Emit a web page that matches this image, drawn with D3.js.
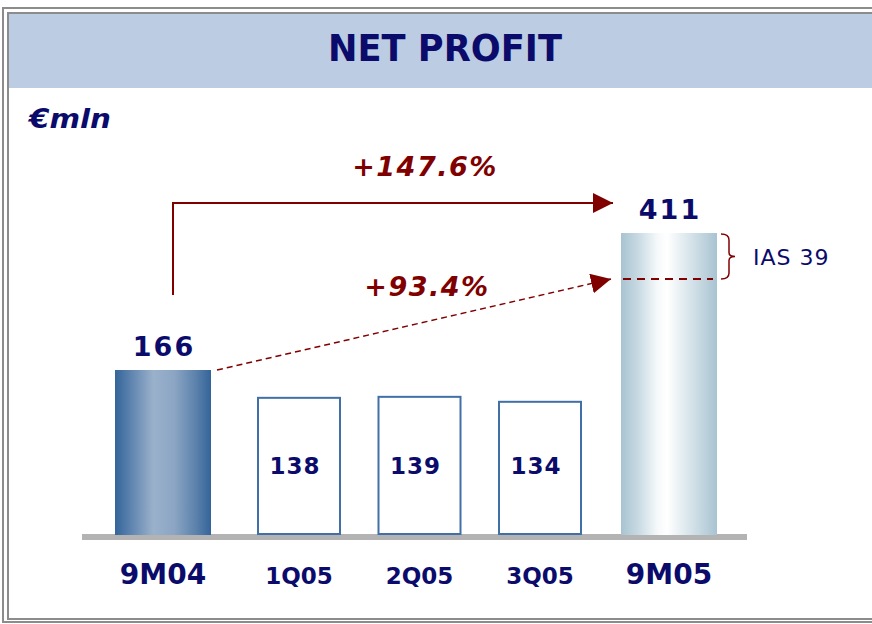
<!DOCTYPE html>
<html>
<head>
<meta charset="utf-8">
<script src="https://cdn.jsdelivr.net/npm/d3@7"></script>
<style>
  body { margin: 0; background: #fff; overflow: hidden; }
  svg { display: block; }
  text { font-family: "DejaVu Sans", Verdana, sans-serif; }
</style>
</head>
<body>
<svg id="svg" width="872" height="624"></svg>
<script>
// chart data
const categories = ["9M04", "1Q05", "2Q05", "3Q05", "9M05"];
const netProfit = [166, 138, 139, 134, 411];
const preIas39 = 321;          // 9M05 before IAS 39 effect
const chartTitle = "NET PROFIT";
const unitLabel = "€mln";
const iasLabel = "IAS 39";

const navy = "#0b0b6b", red = "#800000";
const svg = d3.select("#svg");
const defs = svg.append("defs");

// frame + header band
svg.append("rect").attr("x", 3).attr("y", 8).attr("width", 900).attr("height", 614)
    .attr("fill", "none").attr("stroke", "#8c8c8c").attr("stroke-width", 2);
svg.append("rect").attr("x", 8).attr("y", 13).attr("width", 900).attr("height", 606)
    .attr("fill", "#fff").attr("stroke", "#8c8c8c").attr("stroke-width", 2);
svg.append("rect").attr("x", 9).attr("y", 14).attr("width", 870).attr("height", 74)
    .attr("fill", "#bccde3");
svg.append("text").attr("x", 445).attr("y", 61).attr("text-anchor", "middle")
    .attr("font-size", 37).attr("font-weight", "bold").attr("fill", navy)
    .attr("textLength", 234).attr("lengthAdjust", "spacingAndGlyphs")
    .text(chartTitle);
svg.append("text").attr("x", 29).attr("y", 128)
    .attr("font-size", 26).attr("font-weight", "bold").attr("font-style", "italic")
    .attr("fill", navy).attr("textLength", 82).attr("lengthAdjust", "spacingAndGlyphs")
    .text(unitLabel);

// scales (chart is not to scale, hence piecewise y)
const isQuarter = c => c.includes("Q");
const totals = categories.filter(c => !isQuarter(c));
const quarters = categories.filter(isQuarter);
const xTot = d3.scalePoint().domain(totals).range([163, 669]);
const xQ = d3.scalePoint().domain(quarters).range([299, 540]);
const x = c => isQuarter(c) ? xQ(c) : xTot(c);
const y = d3.scaleLinear().domain([0, 166, 321, 411]).range([535, 370, 279, 233]);
const barW = c => isQuarter(c) ? 82 : 96;

// gradients
function grad(id, stops) {
    const g = defs.append("linearGradient").attr("id", id)
        .attr("x1", "0%").attr("x2", "100%").attr("y1", "0%").attr("y2", "0%");
    stops.forEach(s => g.append("stop").attr("offset", s[0]).attr("stop-color", s[1]));
}
grad("gDark", [["0%", "#33649a"], ["15%", "#5a81ad"], ["40%", "#9ab1cb"], ["62%", "#8ba5c3"], ["85%", "#5a80ab"], ["100%", "#33649a"]]);
grad("gLight", [["0%", "#a8c3d1"], ["18%", "#c8dae3"], ["38%", "#f6f9fa"], ["48%", "#ffffff"], ["78%", "#cddde5"], ["100%", "#a8c3d1"]]);

const data = categories.map((c, i) => ({cat: c, value: netProfit[i]}));

// baseline
svg.append("rect").attr("x", 82).attr("y", y(0) - 1).attr("width", 665).attr("height", 6)
    .attr("fill", "#b3b3b3");

// bars
svg.selectAll("rect.bar").data(data).enter().append("rect")
    .attr("class", "bar")
    .attr("x", d => x(d.cat) - barW(d.cat) / 2)
    .attr("y", d => y(d.value))
    .attr("width", d => barW(d.cat))
    .attr("height", d => y(0) - y(d.value) - (isQuarter(d.cat) ? 1 : 0))
    .attr("fill", (d, i) => isQuarter(d.cat) ? "#fff" : (i === 0 ? "url(#gDark)" : "url(#gLight)"))
    .attr("stroke", d => isQuarter(d.cat) ? "#4070a6" : "none")
    .attr("stroke-width", 2);

// value labels
svg.selectAll("text.val").data(data).enter().append("text")
    .attr("class", "val")
    .attr("x", d => x(d.cat) + (isQuarter(d.cat) ? -4 : 1))
    .attr("y", d => isQuarter(d.cat) ? 474 : y(d.value) - 14)
    .attr("text-anchor", "middle")
    .attr("font-weight", "bold")
    .attr("font-size", d => isQuarter(d.cat) ? 23 : 27)
    .attr("letter-spacing", d => isQuarter(d.cat) ? 1 : 2)
    .attr("fill", navy)
    .text(d => d.value);

// category labels
svg.selectAll("text.cat").data(data).enter().append("text")
    .attr("class", "cat")
    .attr("x", d => x(d.cat))
    .attr("y", 584)
    .attr("text-anchor", "middle")
    .attr("font-weight", "bold")
    .attr("font-size", d => isQuarter(d.cat) ? 23 : 28)
    .attr("fill", navy)
    .text(d => d.cat);

// arrows
defs.append("marker").attr("id", "arr").attr("viewBox", "0 0 10 10")
    .attr("refX", 10).attr("refY", 5).attr("markerWidth", 20).attr("markerHeight", 20)
    .attr("markerUnits", "userSpaceOnUse").attr("orient", "auto")
    .append("path").attr("d", "M0,0 L10,5 L0,10 Z").attr("fill", red);

const first = data[0], last = data[4];
const topY = y(last.value) - 30;
const xFirst = x(first.cat) + 10;
const xLastL = x(last.cat) - barW(last.cat) / 2;

svg.append("path")
    .attr("d", `M${xFirst},${y(first.value) - 75} V${topY} H${xLastL - 8}`)
    .attr("fill", "none").attr("stroke", red).attr("stroke-width", 2)
    .attr("marker-end", "url(#arr)");

svg.append("line")
    .attr("x1", x(first.cat) + barW(first.cat) / 2 + 6).attr("y1", y(first.value))
    .attr("x2", xLastL - 10).attr("y2", y(preIas39))
    .attr("stroke", red).attr("stroke-width", 1.5).attr("stroke-dasharray", "6,4")
    .attr("marker-end", "url(#arr)");

// IAS 39 line inside 9M05 bar
svg.append("line")
    .attr("x1", xLastL + 2).attr("x2", xLastL + barW(last.cat) - 4)
    .attr("y1", y(preIas39)).attr("y2", y(preIas39))
    .attr("stroke", red).attr("stroke-width", 2).attr("stroke-dasharray", "8,6");

// brace
const bx = xLastL + barW(last.cat) + 4, y1 = y(last.value) + 1, y2 = y(preIas39), ym = (y1 + y2) / 2;
svg.append("path")
    .attr("d", `M${bx},${y1} Q${bx + 8},${y1} ${bx + 8},${y1 + 6} V${ym - 4} Q${bx + 8},${ym} ${bx + 14},${ym}` +
               ` Q${bx + 8},${ym} ${bx + 8},${ym + 4} V${y2 - 6} Q${bx + 8},${y2} ${bx},${y2}`)
    .attr("fill", "none").attr("stroke", red).attr("stroke-width", 1.5);
svg.append("text").attr("x", bx + 32).attr("y", ym + 8)
    .attr("font-size", 22).attr("letter-spacing", 1).attr("fill", navy).text(iasLabel);

// growth labels
const fmt = v => "+" + d3.format(".1f")(v) + "%";
svg.append("text").attr("x", 425).attr("y", 176).attr("text-anchor", "middle")
    .attr("font-size", 27).attr("font-weight", "bold").attr("font-style", "italic")
    .attr("letter-spacing", 1.5).attr("fill", red)
    .text(fmt((last.value / first.value - 1) * 100));
svg.append("text").attr("x", 427).attr("y", 296).attr("text-anchor", "middle")
    .attr("font-size", 27).attr("font-weight", "bold").attr("font-style", "italic")
    .attr("letter-spacing", 1.5).attr("fill", red)
    .text(fmt((preIas39 / first.value - 1) * 100));
</script>
</body>
</html>
